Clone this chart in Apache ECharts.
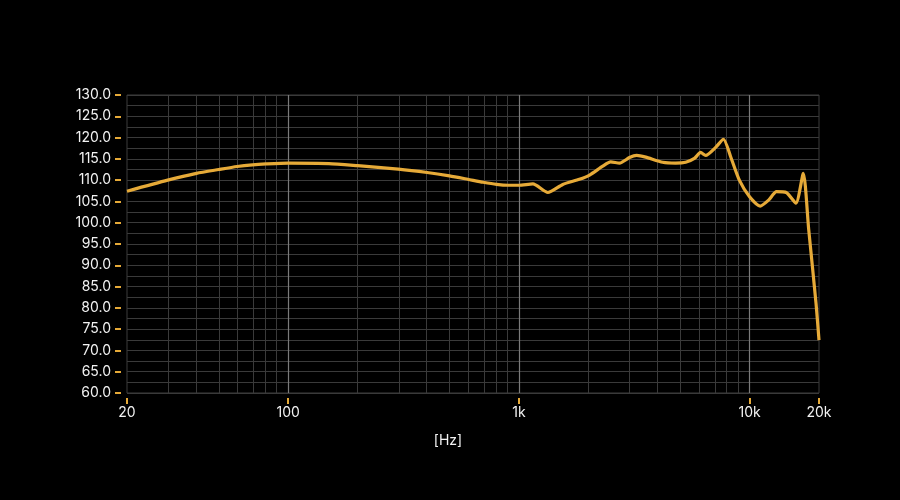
<!DOCTYPE html>
<html>
<head>
<meta charset="utf-8">
<script src="https://cdn.jsdelivr.net/npm/echarts@6/dist/echarts.min.js"></script>
<style>html,body{margin:0;padding:0;background:#000;}#c{width:900px;height:500px;}</style>
</head>
<body>
<div id="c"></div>
<script>
const freqs = [20,30,40,50,60,70,80,100,150,200,300,400,500,600,700,800,900,1000,1150,1335,1550,1830,2025,2310,2500,2730,3015,3240,3545,4200,4785,5285,5765,6135,6450,7130,7705,8280,9030,10000,11120,12090,13090,14420,15880,17100,18040,19420,20000];
const levels = [107.4,110.0,111.6,112.5,113.2,113.6,113.8,114.0,113.9,113.4,112.6,111.8,111.0,110.2,109.5,109.0,108.8,108.8,109.1,107.1,109.0,110.2,111.2,113.3,114.3,114.0,115.3,115.8,115.4,114.2,114.0,114.2,115.1,116.5,115.8,117.7,119.6,115.5,110.0,106.1,103.9,105.3,107.3,107.1,104.6,111.6,98.5,81.0,72.4];
const tickFreqs = [20,100,1000,10000,20000];
const tickLabels = ['20','100','1k','10k','20k'];
const minorGridFreqs = [30,40,50,60,70,80,90,200,300,400,500,600,700,800,900,2000,3000,4000,5000,6000,7000,8000,9000];
const majorGridFreqs = [100,1000,10000];
const yMin = 60, yMax = 130, yStep = 5;

const lg = Math.log10;
const chart = echarts.init(document.getElementById('c'), null, {renderer:'canvas'});
const labelMap = {};
tickFreqs.forEach((f,i)=>{ labelMap[lg(f).toFixed(4)] = tickLabels[i]; });
const font = 'Inter, "Noto Sans", sans-serif';
const gold = '#E6AA38';

chart.setOption({
  backgroundColor: '#000',
  animation: false,
  grid: { left: 127, right: 81, top: 95, bottom: 107, show: true, borderColor: '#3c3c3c', borderWidth: 1, backgroundColor: 'transparent' },
  xAxis: {
    type: 'value',
    min: lg(20), max: lg(20000),
    offset: 5,
    axisLine: { show: false },
    splitLine: { show: false },
    axisTick: { show: true, customValues: tickFreqs.map(lg), length: 6, lineStyle: { color: gold, width: 2 } },
    axisLabel: { show: true, customValues: tickFreqs.map(lg), margin: 8, color: '#f2f2f2', fontSize: 14, fontFamily: font,
      formatter: v => labelMap[Number(v).toFixed(4)] || '' },
    name: '[Hz]', nameLocation: 'middle', nameGap: 36,
    nameTextStyle: { color: '#f2f2f2', fontSize: 14, fontFamily: font, padding: [0, 50, 0, 0] }
  },
  yAxis: {
    type: 'value', min: yMin, max: yMax, interval: yStep,
    offset: 6,
    axisLine: { show: false },
    axisTick: { show: true, length: 6, lineStyle: { color: gold, width: 2 } },
    axisLabel: { color: '#f2f2f2', fontSize: 14, fontFamily: font, margin: 10, formatter: v => v.toFixed(1) },
    splitLine: { show: true, lineStyle: { color: '#3a3a3a', width: 1 } },
    minorTick: { show: false, splitNumber: 2 },
    minorSplitLine: { show: true, lineStyle: { color: '#3a3a3a', width: 1 } }
  },
  series: [
    {
      type: 'line', data: [], silent: true,
      markLine: { silent: true, symbol: 'none', label: { show: false },
        lineStyle: { color: '#3a3a3a', width: 1, type: 'solid' },
        data: minorGridFreqs.map(f => ({ xAxis: lg(f) })) }
    },
    {
      type: 'line', data: [], silent: true,
      markLine: { silent: true, symbol: 'none', label: { show: false },
        lineStyle: { color: '#7a7a7a', width: 1.2, type: 'solid' },
        data: majorGridFreqs.map(f => ({ xAxis: lg(f) })) }
    },
    {
      type: 'line',
      data: freqs.map((f, i) => [lg(f), levels[i]]),
      showSymbol: false, smooth: 0.22,
      lineStyle: { color: gold, width: 3.2 },
      z: 5
    }
  ]
});
</script>
</body>
</html>
